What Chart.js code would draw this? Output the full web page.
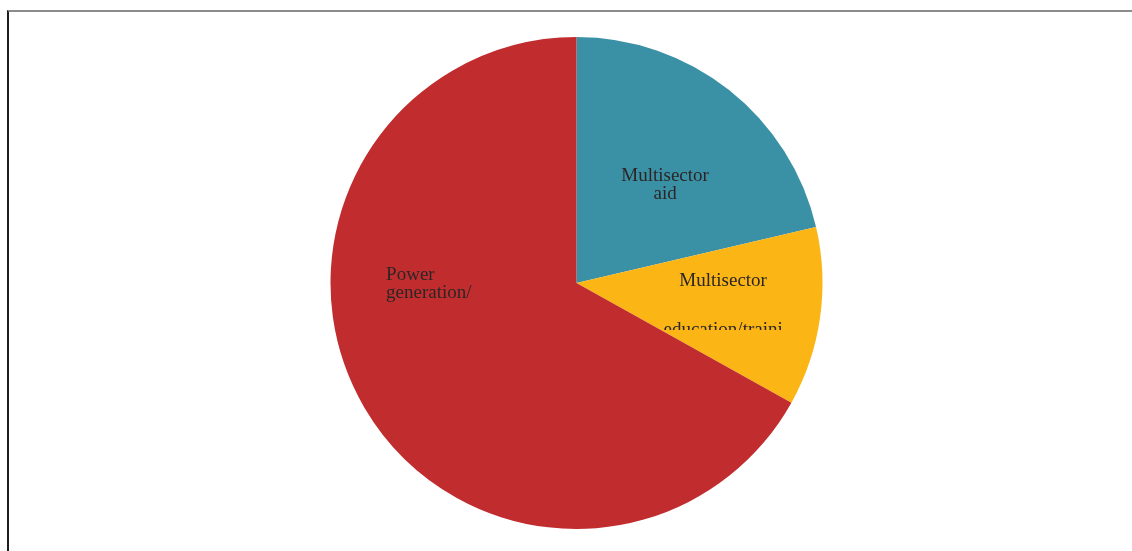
<!DOCTYPE html>
<html>
<head>
<meta charset="utf-8">
<script src="https://cdn.jsdelivr.net/npm/chart.js@4/dist/chart.umd.min.js"></script>
<style>
  html, body { margin: 0; padding: 0; background: #fff; }
  #wrap { position: relative; width: 1132px; height: 551px; overflow: hidden; }
  #frame { position: absolute; left: 7px; top: 10px; right: 0; bottom: 0;
           border-top: 2px solid #8c8c8c; border-left: 2px solid #1e1e1e; pointer-events: none; }
  canvas { position: absolute; left: 0; top: 0; }
</style>
</head>
<body>
<div id="wrap">
  <canvas id="c" width="1132" height="551"></canvas>
  <div id="frame"></div>
</div>
<script>
// Data
const categories = ["Multisector aid", "Multisector education/training", "Power generation/renewable sources"];
const shares = [21.35, 11.74, 66.91];
const labelLines = [
  ["Multisector", "aid"],
  ["Multisector", "education/traini"],
  ["Power", "generation/"]
];
const sliceColors = ["#3a91a6", "#fbb515", "#c12d2e"];

// Label layout (relative to pie centre, in units of radius) — styling only
const labelLayout = [
  { dx: 0.360, dy: -0.415, align: "center", lineGap: 18, clipBottom: null },
  { dx: 0.596, dy: 0.012, align: "center", lineGap: 49, clipBottom: 0.191 },
  { dx: -0.774, dy: -0.012, align: "left", lineGap: 18, clipBottom: null }
];

const sliceLabels = {
  id: "sliceLabels",
  afterDatasetsDraw(chart) {
    const ctx = chart.ctx;
    const meta = chart.getDatasetMeta(0);
    meta.data.forEach((arc, i) => {
      const L = labelLayout[i];
      const r = arc.outerRadius;
      const x = arc.x + L.dx * r;
      const y = arc.y + L.dy * r;
      ctx.save();
      if (L.clipBottom !== null) {
        ctx.beginPath();
        ctx.rect(0, 0, chart.width, arc.y + L.clipBottom * r);
        ctx.clip();
      }
      ctx.font = '19px "Liberation Serif", "Times New Roman", serif';
      ctx.fillStyle = "#2b2626";
      ctx.textAlign = L.align;
      ctx.textBaseline = "alphabetic";
      labelLines[i].forEach((line, k) => {
        ctx.fillText(line, x, y + k * L.lineGap);
      });
      ctx.restore();
    });
  }
};

new Chart(document.getElementById("c"), {
  type: "pie",
  data: {
    labels: categories,
    datasets: [{
      data: shares,
      backgroundColor: sliceColors,
      borderWidth: 0
    }]
  },
  options: {
    responsive: false,
    animation: false,
    layout: { padding: { left: 21, right: 0, top: 37, bottom: 22 } },
    plugins: {
      legend: { display: false },
      tooltip: { enabled: false },
      title: { display: false }
    }
  },
  plugins: [sliceLabels]
});
</script>
</body>
</html>
